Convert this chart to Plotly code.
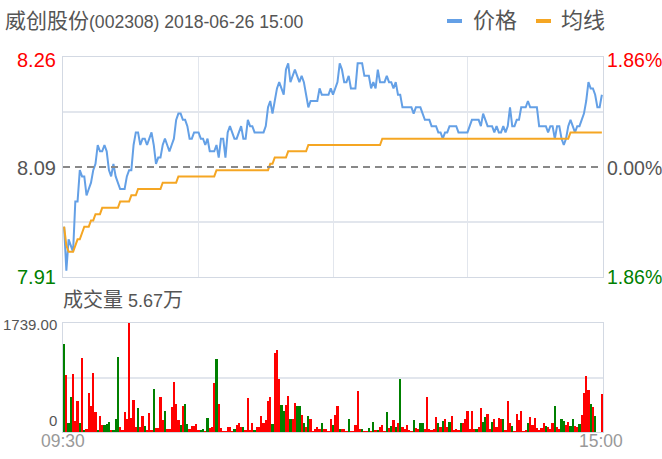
import plotly.graph_objects as go

W, H = 662, 459

title_cjk = "威创股份"
title_rest = "(002308) 2018-06-26 15:00"
legend_names = ["价格", "均线"]
vol_title_cjk = "成交量"
vol_title_num = " 5.67"
vol_title_unit = "万"
price_labels = ["8.26", "8.09", "7.91"]
pct_labels = ["1.86%", "0.00%", "1.86%"]
vol_labels = ["1739.00", "0"]
time_labels = ["09:30", "15:00"]

price = [
    7.99, 7.92, 7.97, 7.96, 7.95, 8.03, 8.03, 8.08, 8.07, 8.07,
    8.04, 8.05, 8.06, 8.08, 8.09, 8.12, 8.11, 8.11, 8.12, 8.11,
    8.08, 8.07, 8.09, 8.07, 8.06, 8.05, 8.05, 8.05, 8.07, 8.08,
    8.08, 8.12, 8.14, 8.14, 8.12, 8.13, 8.13, 8.12, 8.13, 8.14,
    8.12, 8.09, 8.10, 8.10, 8.12, 8.13, 8.12, 8.11, 8.12, 8.13,
    8.16, 8.17, 8.17, 8.16, 8.16, 8.15, 8.13, 8.13, 8.14, 8.14,
    8.14, 8.13, 8.13, 8.12, 8.13, 8.11, 8.11, 8.11, 8.12, 8.10,
    8.13, 8.13, 8.10, 8.14, 8.15, 8.14, 8.13, 8.13, 8.14, 8.15,
    8.13, 8.13, 8.16, 8.15, 8.15, 8.14, 8.14, 8.14, 8.14, 8.14,
    8.15, 8.18, 8.19, 8.17, 8.19, 8.21, 8.22, 8.21, 8.20, 8.24,
    8.25, 8.22, 8.23, 8.24, 8.23, 8.22, 8.23, 8.22, 8.20, 8.18,
    8.19, 8.19, 8.19, 8.19, 8.21, 8.20, 8.20, 8.20, 8.20, 8.21,
    8.20, 8.21, 8.22, 8.25, 8.24, 8.22, 8.22, 8.23, 8.21, 8.21,
    8.21, 8.25, 8.25, 8.25, 8.23, 8.23, 8.23, 8.21, 8.22, 8.21,
    8.24, 8.22, 8.22, 8.22, 8.23, 8.22, 8.22, 8.21, 8.22, 8.20,
    8.20, 8.18, 8.18, 8.18, 8.18, 8.18, 8.17, 8.18, 8.18, 8.18,
    8.17, 8.16, 8.16, 8.16, 8.15, 8.15, 8.15, 8.14, 8.14, 8.13,
    8.14, 8.14, 8.15, 8.15, 8.15, 8.15, 8.14, 8.14, 8.14, 8.14,
    8.14, 8.15, 8.16, 8.16, 8.16, 8.16, 8.15, 8.17, 8.16, 8.15,
    8.15, 8.15, 8.14, 8.15, 8.14, 8.14, 8.15, 8.14, 8.15, 8.18,
    8.15, 8.15, 8.16, 8.16, 8.18, 8.18, 8.18, 8.19, 8.18, 8.18,
    8.18, 8.18, 8.15, 8.15, 8.15, 8.15, 8.14, 8.15, 8.15, 8.13,
    8.15, 8.15, 8.13, 8.12, 8.13, 8.15, 8.16, 8.15, 8.14, 8.15,
    8.15, 8.16, 8.17, 8.19, 8.22, 8.21, 8.21, 8.20, 8.18, 8.18,
    8.20,
]

avg = [
    7.99, 7.96, 7.95, 7.95, 7.95, 7.96, 7.97, 7.97, 7.98, 7.99,
    7.99, 7.99, 8.00, 8.00, 8.01, 8.01, 8.01, 8.02, 8.02, 8.02,
    8.02, 8.02, 8.02, 8.02, 8.02, 8.03, 8.03, 8.03, 8.03, 8.03,
    8.04, 8.04, 8.04, 8.05, 8.05, 8.05, 8.05, 8.05, 8.05, 8.05,
    8.05, 8.05, 8.05, 8.05, 8.06, 8.06, 8.06, 8.06, 8.06, 8.06,
    8.06, 8.07, 8.07, 8.07, 8.07, 8.07, 8.07, 8.07, 8.07, 8.07,
    8.07, 8.07, 8.07, 8.07, 8.07, 8.07, 8.07, 8.07, 8.08, 8.08,
    8.08, 8.08, 8.08, 8.08, 8.08, 8.08, 8.08, 8.08, 8.08, 8.08,
    8.08, 8.08, 8.08, 8.08, 8.08, 8.08, 8.08, 8.08, 8.08, 8.08,
    8.08, 8.08, 8.09, 8.09, 8.10, 8.10, 8.10, 8.10, 8.10, 8.10,
    8.11, 8.11, 8.11, 8.11, 8.11, 8.11, 8.11, 8.11, 8.11, 8.12,
    8.12, 8.12, 8.12, 8.12, 8.12, 8.12, 8.12, 8.12, 8.12, 8.12,
    8.12, 8.12, 8.12, 8.12, 8.12, 8.12, 8.12, 8.12, 8.12, 8.12,
    8.12, 8.12, 8.12, 8.12, 8.12, 8.12, 8.12, 8.12, 8.12, 8.12,
    8.12, 8.12, 8.13, 8.13, 8.13, 8.13, 8.13, 8.13, 8.13, 8.13,
    8.13, 8.13, 8.13, 8.13, 8.13, 8.13, 8.13, 8.13, 8.13, 8.13,
    8.13, 8.13, 8.13, 8.13, 8.13, 8.13, 8.13, 8.13, 8.13, 8.13,
    8.13, 8.13, 8.13, 8.13, 8.13, 8.13, 8.13, 8.13, 8.13, 8.13,
    8.13, 8.13, 8.13, 8.13, 8.13, 8.13, 8.13, 8.13, 8.13, 8.13,
    8.13, 8.13, 8.13, 8.13, 8.13, 8.13, 8.13, 8.13, 8.13, 8.13,
    8.13, 8.13, 8.13, 8.13, 8.13, 8.13, 8.13, 8.13, 8.13, 8.13,
    8.13, 8.13, 8.13, 8.13, 8.13, 8.13, 8.13, 8.13, 8.13, 8.13,
    8.13, 8.13, 8.13, 8.13, 8.13, 8.13, 8.14, 8.14, 8.14, 8.14,
    8.14, 8.14, 8.14, 8.14, 8.14, 8.14, 8.14, 8.14, 8.14, 8.14,
    8.14,
]

volume = [
    1399, 909, 148, 563, 926, 175, 500, 138, 1185, 20,
    48, 627, 415, 935, 319, 32, 260, 112, 112, 128,
    165, 32, 32, 207, 1190, 85, 32, 314, 207, 1739,
    223, 510, 75, 378, 75, 260, 101, 32, 298, 32,
    680, 69, 69, 553, 191, 340, 43, 48, 399, 792,
    447, 191, 112, 415, 447, 128, 43, 96, 96, 122,
    32, 32, 43, 16, 229, 69, 85, 776, 1164, 447,
    69, 16, 5, 85, 85, 16, 48, 112, 138, 85,
    75, 32, 537, 32, 149, 32, 75, 75, 255, 149,
    191, 494, 553, 128, 1255, 1308, 840, 425, 340, 425,
    574, 202, 202, 457, 415, 415, 271, 138, 75, 255,
    213, 16, 43, 85, 43, 149, 43, 43, 16, 207,
    112, 271, 415, 48, 43, 43, 5, 213, 16, 5,
    112, 659, 43, 43, 16, 16, 59, 16, 165, 32,
    32, 85, 106, 16, 314, 59, 96, 191, 75, 138,
    840, 75, 53, 106, 32, 16, 191, 69, 43, 149,
    138, 53, 553, 53, 32, 53, 245, 149, 85, 181,
    207, 85, 165, 255, 32, 43, 32, 149, 149, 213,
    335, 53, 340, 53, 53, 75, 378, 159, 239, 287,
    53, 159, 202, 85, 229, 213, 202, 32, 500, 149,
    96, 16, 287, 191, 335, 16, 32, 149, 245, 112,
    229, 69, 32, 59, 149, 96, 85, 53, 149, 415,
    75, 53, 213, 181, 112, 159, 96, 207, 96, 85,
    128, 271, 617, 893, 670, 441, 404, 255, 0, 0,
    601,
]

direction = [
    "g", "r", "g", "g", "r", "r", "r", "g", "r", "g",
    "r", "r", "r", "r", "r", "g", "r", "r", "g", "g",
    "g", "r", "g", "g", "g", "r", "r", "r", "r", "r",
    "r", "r", "r", "g", "r", "r", "g", "r", "r", "r",
    "g", "r", "r", "r", "r", "g", "r", "r", "r", "r",
    "r", "r", "g", "r", "g", "g", "r", "r", "r", "r",
    "r", "g", "g", "r", "g", "r", "r", "r", "g", "r",
    "r", "r", "r", "r", "r", "r", "g", "r", "r", "r",
    "g", "r", "r", "r", "r", "g", "r", "r", "r", "r",
    "r", "r", "r", "g", "r", "r", "r", "g", "g", "r",
    "r", "g", "r", "r", "g", "g", "r", "g", "r", "g",
    "r", "r", "r", "r", "r", "g", "r", "r", "r", "r",
    "g", "r", "r", "g", "r", "r", "r", "g", "r", "r",
    "r", "r", "r", "g", "r", "r", "g", "r", "g", "r",
    "g", "r", "r", "r", "g", "r", "g", "r", "g", "r",
    "g", "r", "r", "r", "r", "r", "g", "r", "r", "g",
    "g", "r", "r", "r", "r", "r", "r", "g", "r", "g",
    "r", "r", "g", "r", "r", "r", "r", "g", "r", "r",
    "r", "r", "r", "r", "g", "r", "r", "g", "g", "r",
    "r", "g", "r", "r", "r", "r", "g", "r", "r", "r",
    "g", "r", "r", "r", "r", "r", "r", "g", "r", "r",
    "r", "r", "r", "r", "r", "g", "r", "r", "r", "g",
    "r", "r", "g", "g", "r", "r", "g", "g", "r", "r",
    "g", "r", "r", "r", "r", "g", "r", "g", "r", "r",
    "r",
]

minutes = list(range(len(price)))

BLUE = "#64a0e6"
ORANGE = "#f5a623"
RED = "#ff0000"
GREEN = "#008000"
GRID = "#e2e6ed"
FRAME = "#d3d9e3"
TXT = "#555555"
FONT = "Liberation Sans, Noto Sans CJK SC, sans-serif"

bar_colors = [RED if d == "r" else GREEN for d in direction]

fig = go.Figure()
fig.add_trace(go.Scatter(x=minutes, y=price, mode="lines", line=dict(color=BLUE, width=2),
                         xaxis="x", yaxis="y", showlegend=False, hoverinfo="skip"))
fig.add_trace(go.Scatter(x=minutes, y=avg, mode="lines", line=dict(color=ORANGE, width=2),
                         xaxis="x", yaxis="y", showlegend=False, hoverinfo="skip"))
fig.add_trace(go.Bar(x=minutes, y=volume, marker=dict(color=bar_colors, line=dict(width=0)),
                     xaxis="x2", yaxis="y2", showlegend=False, hoverinfo="skip"))


def px_x(x):
    return x / W


def px_y(y):
    return 1 - y / H


xdom = [px_x(63), px_x(603)]
xr = [-0.5, len(price) - 0.5]

fig.update_layout(
    width=W, height=H,
    margin=dict(l=0, r=0, t=0, b=0),
    paper_bgcolor="white", plot_bgcolor="white",
    bargap=0,
    xaxis=dict(domain=xdom, range=xr, anchor="y", tickvals=[60, 120, 180], showgrid=True,
               gridcolor=GRID, gridwidth=1, showticklabels=False, ticks="", zeroline=False,
               showline=True, mirror=True, linecolor=FRAME, linewidth=1),
    yaxis=dict(domain=[px_y(277), px_y(57)], range=[7.91, 8.26], tickvals=[7.9975, 8.1725],
               showgrid=True, gridcolor=GRID, gridwidth=2, showticklabels=False, ticks="",
               zeroline=False, showline=True, mirror=True, linecolor=FRAME, linewidth=1),
    xaxis2=dict(domain=xdom, range=xr, anchor="y2", showgrid=False, showticklabels=False,
                ticks="", zeroline=False, showline=True, mirror=True, linecolor=FRAME, linewidth=1),
    yaxis2=dict(domain=[px_y(432), px_y(323)], range=[0, 1739], tickvals=[869.5], showgrid=True,
                gridcolor=GRID, gridwidth=2, showticklabels=False, ticks="", zeroline=False,
                showline=True, mirror=True, linecolor=FRAME, linewidth=1),
)

shapes = [
    dict(type="line", xref="x", yref="y", x0=xr[0], x1=xr[1] - 2, y0=8.085, y1=8.085,
         line=dict(color="#888888", width=2, dash="7px,5px"), layer="above"),
    dict(type="line", xref="paper", yref="paper", x0=px_x(447), x1=px_x(462), y0=px_y(21), y1=px_y(21),
         line=dict(color=BLUE, width=4)),
    dict(type="line", xref="paper", yref="paper", x0=px_x(536), x1=px_x(551), y0=px_y(21), y1=px_y(21),
         line=dict(color=ORANGE, width=4)),
]
fig.update_layout(shapes=shapes)


def ann(text, x, y, size, color, anchor="left", family=FONT):
    return dict(text=text, x=px_x(x), y=px_y(y), xref="paper", yref="paper", showarrow=False,
                xanchor=anchor, yanchor="middle", font=dict(family=family, size=size, color=color))


title_html = "<span style='font-size:21px'>" + title_cjk + "</span>" + title_rest
vol_html = ("<span style='font-size:20px'>" + vol_title_cjk + "</span>" + vol_title_num
            + "<span style='font-size:20px'>" + vol_title_unit + "</span>")

anns = [
    ann(title_html, 3, 21, 17.6, TXT),
    ann(legend_names[0], 471, 21, 22, TXT),
    ann(legend_names[1], 559, 21, 22, TXT),
    ann(price_labels[0], 58, 60, 20, RED, "right"),
    ann(price_labels[1], 58, 168, 20, TXT, "right"),
    ann(price_labels[2], 58, 277, 20, GREEN, "right"),
    ann(pct_labels[0], 605, 60, 19.5, RED),
    ann(pct_labels[1], 605, 168, 19.5, TXT),
    ann(pct_labels[2], 605, 277, 19.5, GREEN),
    ann(vol_html, 61, 300, 18, TXT),
    ann(vol_labels[0], 59, 324, 15, TXT, "right"),
    ann(vol_labels[1], 59, 420, 15, TXT, "right"),
    ann(time_labels[0], 63, 441, 17.5, "#999999", "center"),
    ann(time_labels[1], 601, 441, 17.5, "#999999", "center"),
]
fig.update_layout(annotations=anns)

fig.write_html("out.html", config={"displayModeBar": False},
               post_script="document.body.style.margin='0px';document.body.style.padding='0px';")
